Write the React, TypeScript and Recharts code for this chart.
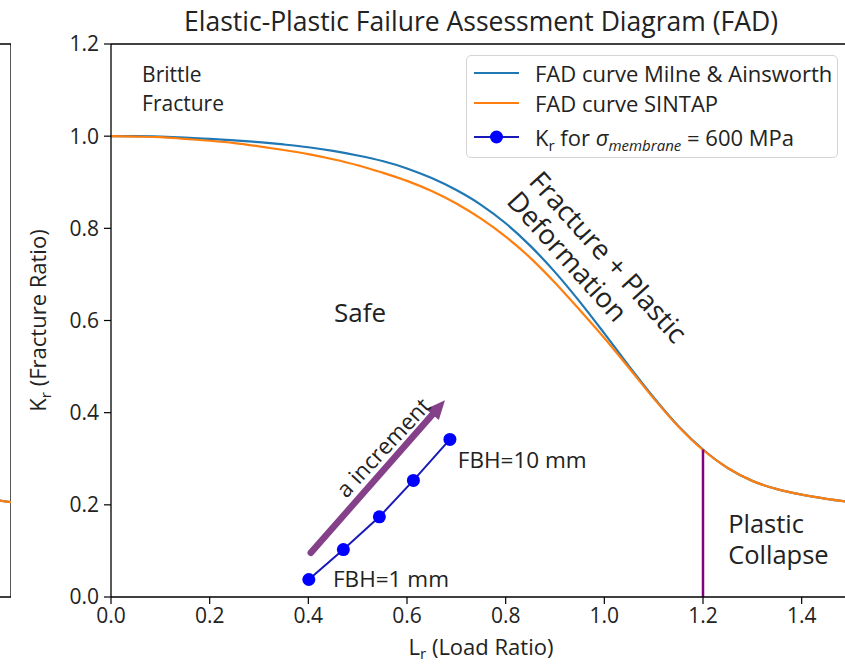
import React from "react";
import {
  ComposedChart,
  Line,
  XAxis,
  YAxis,
  ReferenceLine,
  ReferenceDot,
  ReferenceArea,
  Label,
} from "recharts";

// Lr sample positions and Kr values
const lrGrid = [
  0, 0.05, 0.1, 0.15, 0.2, 0.25, 0.3, 0.35, 0.4, 0.45, 0.5, 0.55, 0.6, 0.65, 0.7, 0.75,
  0.8, 0.85, 0.9, 0.95, 1.0, 1.05, 1.1, 1.15, 1.2, 1.25, 1.3, 1.35, 1.4, 1.45, 1.5,
];
const krMilne = [
  1.0, 1.0, 0.999, 0.997, 0.994, 0.991, 0.987, 0.982, 0.976, 0.968, 0.958, 0.946, 0.93, 0.909,
  0.883, 0.851, 0.811, 0.762, 0.705, 0.641, 0.572, 0.501, 0.433, 0.371, 0.32, 0.28, 0.252,
  0.234, 0.222, 0.213, 0.206,
];
const krSintap = [
  1.0, 0.999, 0.998, 0.994, 0.99, 0.985, 0.978, 0.97, 0.961, 0.95, 0.937, 0.921, 0.903, 0.881,
  0.854, 0.821, 0.782, 0.736, 0.682, 0.623, 0.562, 0.497, 0.431, 0.37, 0.319, 0.28, 0.252,
  0.234, 0.222, 0.213, 0.206,
];

// flaw points (FBH = 1 ... 10 mm)
const fbhLr = [0.401, 0.471, 0.544, 0.613, 0.687];
const fbhKr = [0.038, 0.103, 0.174, 0.253, 0.342];

const xTicks = [0, 0.2, 0.4, 0.6, 0.8, 1.0, 1.2, 1.4];
const yTicks = [0, 0.2, 0.4, 0.6, 0.8, 1.0, 1.2];

const lrMax = 1.2;
const krAtLrMax = 0.32;
const arrowFrom = { x: 0.405, y: 0.096 };
const arrowTo = { x: 0.677, y: 0.427 };

const curveData = lrGrid.map((L, i) => ({ L, milne: krMilne[i], sintap: krSintap[i] }));
const fbhData = fbhLr.map((L, i) => ({ L, kr: fbhKr[i] }));

const FONT = "'Open Sans', 'Noto Sans', sans-serif";
const INK = "#222222";
const BLUE = "#1f77b4";
const ORANGE = "#ff7f0e";
const PURPLE = "#800080";

const fmt = (v: number) => v.toFixed(1);

const Arrow = (p: any) => {
  const { x1, y1, x2, y2 } = p;
  const dx = x2 - x1;
  const dy = y2 - y1;
  const len = Math.hypot(dx, dy);
  const ux = dx / len;
  const uy = dy / len;
  const headLen = 19;
  const headW = 8.5;
  const bx = x2 - ux * headLen;
  const by = y2 - uy * headLen;
  const nx = -uy;
  const ny = ux;
  return (
    <g>
      <line x1={x1} y1={y1} x2={bx} y2={by} stroke="#85408a" strokeWidth={6.5} strokeLinecap="round" />
      <polygon
        points={`${x2},${y2} ${bx + nx * headW},${by + ny * headW} ${bx - nx * headW},${by - ny * headW}`}
        fill="#85408a"
      />
    </g>
  );
};

// multi-line text anchored at a data point
const note =
  (lines: string[], size: number, lineGap: number, anchor = "start", rotate = 0, baseline = "auto") =>
  (p: any) =>
    (
      <g transform={`translate(${p.cx},${p.cy}) rotate(${rotate})`}>
        {lines.map((t, i) => (
          <text
            key={i}
            x={0}
            y={i * lineGap}
            fontSize={size}
            fontFamily={FONT}
            fill={INK}
            textAnchor={anchor as any}
            dominantBaseline={baseline as any}
          >
            {t}
          </text>
        ))}
      </g>
    );

const XLabel = ({ viewBox }: any) => (
  <text x={viewBox.x + viewBox.width / 2} y={viewBox.y + 58} textAnchor="middle" fontSize={22} fontFamily={FONT} fill={INK}>
    L<tspan fontSize={15} dy={4}>r</tspan>
    <tspan dy={-4}> (Load Ratio)</tspan>
  </text>
);

const YLabel = ({ viewBox }: any) => (
  <text
    transform={`translate(46,${viewBox.y + viewBox.height / 2}) rotate(-90)`}
    textAnchor="middle"
    fontSize={22}
    fontFamily={FONT}
    fill={INK}
  >
    K<tspan fontSize={15} dy={5}>r</tspan>
    <tspan dy={-5}> (Fracture Ratio)</tspan>
  </text>
);

const tickStyle = { fontSize: 21, fontFamily: FONT, fill: INK };

const LegendBox = () => {
  const row = (top: number, sample: React.ReactNode, text: React.ReactNode) => (
    <div style={{ position: "absolute", left: 0, top: top - 15, height: 30, width: "100%" }}>
      <svg width={48} height={30} style={{ position: "absolute", left: 6, top: 0 }}>
        {sample}
      </svg>
      <div style={{ position: "absolute", left: 68, top: 0, lineHeight: "30px", whiteSpace: "nowrap" }}>{text}</div>
    </div>
  );
  return (
    <div
      style={{
        position: "absolute",
        left: 466,
        top: 55,
        width: 372,
        height: 103,
        border: "1px solid #d4d4d4",
        borderRadius: 5,
        background: "rgba(255,255,255,0.85)",
        fontFamily: FONT,
        fontSize: 22,
        color: INK,
        boxSizing: "border-box",
      }}
    >
      {row(17, <line x1={1} x2={46} y1={15} y2={15} stroke={BLUE} strokeWidth={2.2} />, "FAD curve Milne & Ainsworth")}
      {row(47, <line x1={1} x2={46} y1={15} y2={15} stroke={ORANGE} strokeWidth={2.2} />, "FAD curve SINTAP")}
      {row(
        81,
        <g>
          <line x1={1} x2={46} y1={15} y2={15} stroke="#1a1ab8" strokeWidth={2} />
          <circle cx={23.5} cy={15} r={6.5} fill="#0000ff" />
        </g>,
        <span>
          K<sub style={{ fontSize: 15 }}>r</sub> for <i>σ</i>
          <sub style={{ fontSize: 15 }}>
            <i>membrane</i>
          </sub>{" "}
          = 600 MPa
        </span>
      )}
    </div>
  );
};

export default function App() {
  return (
    <div style={{ position: "fixed", left: 0, top: 0, width: 845, height: 664, overflow: "hidden", background: "#fff" }}>
      {/* edge of the neighbouring subplot, cut off at the left */}
      <div style={{ position: "absolute", left: -729, top: 0 }}>
        <ComposedChart width={740} height={664} data={curveData} margin={{ top: 44, right: 0, bottom: 67, left: 0 }}>
          <XAxis type="number" dataKey="L" domain={[0, 1.5]} hide />
          <YAxis type="number" domain={[0, 1.2]} hide />
          <Line type="monotone" dataKey="milne" stroke={BLUE} strokeWidth={2.2} dot={false} isAnimationActive={false} />
          <Line type="monotone" dataKey="sintap" stroke={ORANGE} strokeWidth={2.2} dot={false} isAnimationActive={false} />
          <ReferenceArea x1={0} x2={1.5} y1={0} y2={1.2} fill="none" stroke="#000" strokeWidth={1.3} />
        </ComposedChart>
      </div>

      <div style={{ position: "absolute", left: 0, top: 0 }}>
        <ComposedChart width={870} height={664} data={curveData} margin={{ top: 44, right: 19, bottom: 0, left: 0 }}>
          <XAxis
            type="number"
            dataKey="L"
            domain={[0, 1.5]}
            ticks={xTicks}
            tickFormatter={fmt}
            height={67}
            tick={tickStyle}
            tickSize={7}
            tickMargin={4}
            axisLine={{ stroke: "#000", strokeWidth: 1.3 }}
            tickLine={{ stroke: "#000", strokeWidth: 1.2 }}
            allowDataOverflow
          >
            <Label content={XLabel} />
          </XAxis>
          <YAxis
            type="number"
            domain={[0, 1.2]}
            ticks={yTicks}
            tickFormatter={fmt}
            width={111}
            tick={tickStyle}
            tickSize={7}
            tickMargin={5}
            axisLine={{ stroke: "#000", strokeWidth: 1.3 }}
            tickLine={{ stroke: "#000", strokeWidth: 1.2 }}
          >
            <Label content={YLabel} />
          </YAxis>
          <ReferenceLine y={1.2} stroke="#000" strokeWidth={1.3} />
          <ReferenceLine x={1.5} stroke="#000" strokeWidth={1.3} />

          <Line type="monotone" dataKey="milne" stroke={BLUE} strokeWidth={2.2} dot={false} isAnimationActive={false} />
          <Line type="monotone" dataKey="sintap" stroke={ORANGE} strokeWidth={2.2} dot={false} isAnimationActive={false} />

          <ReferenceLine
            segment={[
              { x: lrMax, y: 0 },
              { x: lrMax, y: krAtLrMax },
            ]}
            stroke={PURPLE}
            strokeWidth={2.5}
          />
          <ReferenceLine segment={[arrowFrom, arrowTo]} shape={Arrow} />

          <Line
            data={fbhData}
            type="linear"
            dataKey="kr"
            stroke="#1a1ab8"
            strokeWidth={2}
            dot={{ r: 6.5, fill: "#0000ff", stroke: "#0000ff", strokeWidth: 0 }}
            isAnimationActive={false}
          />

          <ReferenceDot x={0.063} y={1.1175} r={0} shape={note(["Brittle", "Fracture"], 21, 29)} />
          <ReferenceDot x={0.505} y={0.618} r={0} shape={note(["Safe"], 26, 0, "middle", 0, "central")} />
          <ReferenceDot x={0.845} y={0.9} r={0} shape={note(["Fracture + Plastic", "Deformation"], 27.5, 30, "start", 48)} />
          <ReferenceDot x={1.251} y={0.138} r={0} shape={note(["Plastic", "Collapse"], 25.5, 31)} />
          <ReferenceDot x={0.703} y={0.279} r={0} shape={note(["FBH=10 mm"], 22.5, 0)} />
          <ReferenceDot x={0.45} y={0.021} r={0} shape={note(["FBH=1 mm"], 22.5, 0)} />
          <ReferenceDot x={0.551} y={0.325} r={0} shape={note(["a increment"], 22.5, 0, "middle", -47, "central")} />
        </ComposedChart>
      </div>

      <svg width={845} height={42} style={{ position: "absolute", left: 0, top: 0 }}>
        <text x={481} y={31} textAnchor="middle" fontSize={26.5} fontFamily={FONT} fill={INK}>
          Elastic-Plastic Failure Assessment Diagram (FAD)
        </text>
      </svg>

      <LegendBox />
    </div>
  );
}
